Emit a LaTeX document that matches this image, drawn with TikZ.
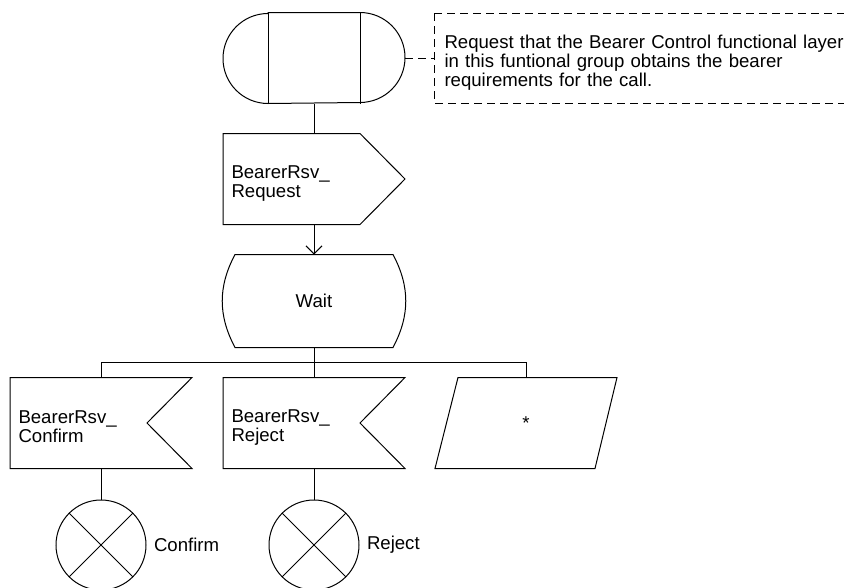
\documentclass[tikz,border=0pt]{standalone}
\usepackage{fontspec}
\setmainfont{Liberation Sans}
\usetikzlibrary{arrows.meta,positioning,calc}

\begin{document}
\begin{tikzpicture}[
  font=\fontsize{18.6pt}{19pt}\selectfont,
  line width=1pt,
  node distance=30pt,
  sdlbox/.style={rectangle, minimum width=181pt, minimum height=90pt,
                 inner sep=0pt, align=center},
  sigbox/.style={sdlbox, text width=165pt, inner xsep=8pt, align=left,
                 execute at begin node={\rule{0pt}{21pt}}},
  statebox/.style={sdlbox, minimum height=92pt},
  joinbox/.style={circle, draw, minimum size=90pt, inner sep=0pt,
                  path picture={\draw (path picture bounding box.north west) -- (path picture bounding box.south east)
                                      (path picture bounding box.north east) -- (path picture bounding box.south west);}},
  note/.style={rectangle, minimum height=89pt, text width=402pt,
               inner xsep=10pt, align=left,
               execute at begin node={\rule{0pt}{23pt}}},
  notedash/.style={dash pattern=on 8pt off 5pt},
  arr/.style={-{Straight Barb[length=8pt,width=16pt]}},
]
\useasboundingbox (0,0) rectangle (844pt,-587pt);

\node[sdlbox]                    (start)    at (314pt,-58pt) {};
\node[note, right=29pt of start] (note)     {Request that the Bearer Control functional layer\\
                                             in this funtional group obtains the bearer\\
                                             requirements for the call.};
\node[sigbox, below=of start]    (req)      {BearerRsv\_\\Request};
\node[statebox, below=of req]    (wait)     {Wait};
\node[sigbox, below=of wait]     (reject)   {BearerRsv\_\\Reject};
\node[sigbox, left=31pt of reject] (confirm) {BearerRsv\_\\Confirm};
\node[sdlbox, right=30pt of reject] (any)   {*};
\node[joinbox, below=31pt of confirm] (confjoin) {};
\node[joinbox, below=31pt of reject]  (rejjoin)  {};
\node[inner sep=0pt, right=7pt of confjoin] (conflbl) {Confirm};
\node[inner sep=0pt, right=7pt of rejjoin]  (rejlbl)  {Reject};

% procedure start
\draw ([xshift=45pt]start.north west) -- ([xshift=-45pt]start.north east)
      arc[start angle=90, end angle=-90, radius=45pt]
      -- ([xshift=45pt]start.south west)
      arc[start angle=270, end angle=90, radius=45pt] -- cycle;
\draw ([xshift=45pt]start.north west) -- ([xshift=45pt]start.south west)
      ([xshift=-45pt]start.north east) -- ([xshift=-45pt]start.south east);

% output signal
\draw (req.north west) -- ([xshift=-45pt]req.north east) -- (req.east)
      -- ([xshift=-45pt]req.south east) -- (req.south west) -- cycle;

% state
\draw ([xshift=12pt]wait.north west) -- ([xshift=-12pt]wait.north east)
      to[out=-62, in=62] ([xshift=-12pt]wait.south east)
      -- ([xshift=12pt]wait.south west)
      to[out=118, in=-118] ([xshift=12pt]wait.north west) -- cycle;

% input signals
\foreach \n in {confirm,reject}
  \draw (\n.north west) -- (\n.north east) -- ([xshift=-45pt]\n.east)
        -- (\n.south east) -- (\n.south west) -- cycle;
\draw ([xshift=23pt]any.north west) -- (any.north east)
      -- ([xshift=-22pt]any.south east) -- (any.south west) -- cycle;

% comment
\draw[notedash] (note.north west) -- (note.north east)
                (note.north west) -- (note.south west) -- (note.south east);
\draw[notedash] (start.east) -- (note.west);

\draw (start) -- (req);
\draw[arr] (req) -- (wait);
\coordinate[below=15pt of wait] (fork);
\draw (wait) -- (fork);
\draw (confirm) |- (fork) -| (any);
\draw (fork) -- (reject);
\draw (confirm) -- (confjoin);
\draw (reject) -- (rejjoin);

\end{tikzpicture}
\end{document}
